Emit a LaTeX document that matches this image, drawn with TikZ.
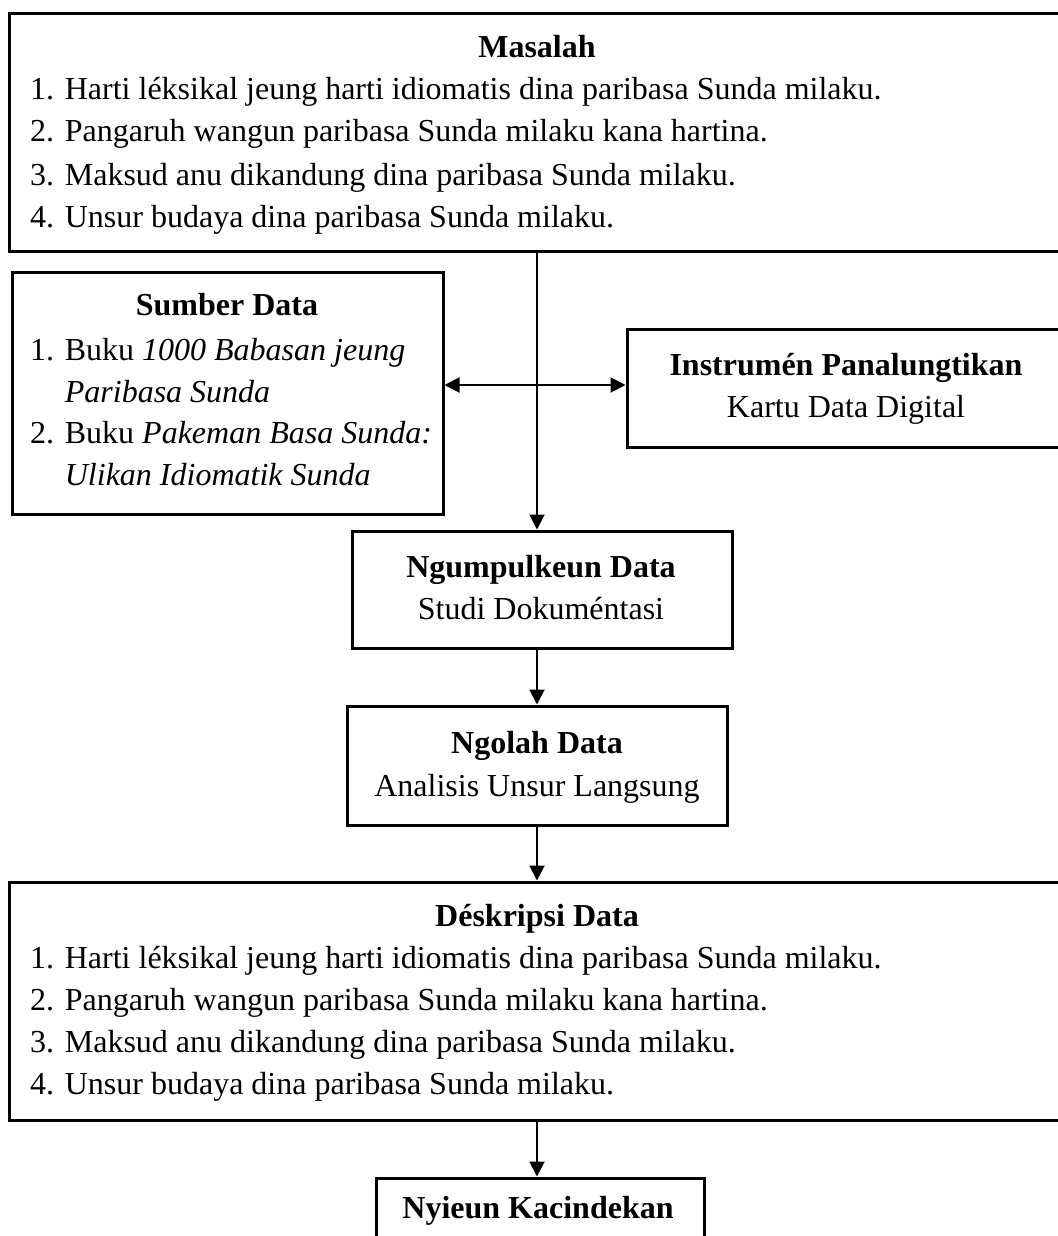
\documentclass[tikz,border=0pt]{standalone}
\usepackage{fontspec}
\setmainfont{Liberation Serif}
\usetikzlibrary{arrows.meta}
\tikzset{
  box/.style={draw, line width=3pt, inner sep=0pt},
  txt/.style={font=\fontsize{32}{36}\selectfont, inner sep=0pt, anchor=base west},
  ttl/.style={font=\fontsize{32}{36}\selectfont\bfseries, inner sep=0pt, anchor=base},
  sub/.style={font=\fontsize{32}{36}\selectfont, inner sep=0pt, anchor=base},
  arr/.style={line width=2pt, -{Triangle[length=15pt,width=15pt]}}
}
\begin{document}
\begin{tikzpicture}[x=1pt,y=-1pt]
\useasboundingbox (0,0) rectangle (1057,1236);
% boxes
\node[box, minimum width=1056pt, minimum height=237pt] (masalah) at (537,132.5) {};
\node[box, minimum width=431pt, minimum height=242pt] (sumber) at (227.5,393) {};
\node[box, minimum width=438pt, minimum height=118pt] (instr) at (846,388) {};
\node[box, minimum width=380pt, minimum height=117pt] (ngumpul) at (542,589.5) {};
\node[box, minimum width=380pt, minimum height=119pt] (ngolah) at (537,765.5) {};
\node[box, minimum width=1056pt, minimum height=238pt] (deskripsi) at (537,1001) {};
\node[box, minimum width=328pt, minimum height=117pt] (nyieun) at (540,1236.5) {};
% Masalah text
\node[ttl] (masalahT) at (537,58) {Masalah};
\node[txt] (m1) at (30,100) {1. Harti léksikal jeung harti idiomatis dina paribasa Sunda milaku.};
\node[txt] (m2) at (30,142) {2. Pangaruh wangun paribasa Sunda milaku kana hartina.};
\node[txt] (m3) at (30,185) {3. Maksud anu dikandung dina paribasa Sunda milaku.};
\node[txt] (m4) at (30,227) {4. Unsur budaya dina paribasa Sunda milaku.};
% Sumber Data text
\node[ttl] (sumberT) at (227,315) {Sumber Data};
\node[txt] (s1) at (30,360) {1. Buku \textit{1000 Babasan jeung}};
\node[txt] (s2) at (30,402) {\phantom{1. }\textit{Paribasa Sunda}};
\node[txt] (s3) at (30,443) {2. Buku \textit{Pakeman Basa Sunda:}};
\node[txt] (s4) at (30,485) {\phantom{1. }\textit{Ulikan Idiomatik Sunda}};
% Instrumen
\node[ttl] (instrT) at (846,375) {Instrumén Panalungtikan};
\node[sub] (instrS) at (846,417) {Kartu Data Digital};
% Ngumpulkeun
\node[ttl] (ngumpulT) at (541,577) {Ngumpulkeun Data};
\node[sub] (ngumpulS) at (541,619) {Studi Dokuméntasi};
% Ngolah
\node[ttl] (ngolahT) at (537,753) {Ngolah Data};
\node[sub] (ngolahS) at (537,796) {Analisis Unsur Langsung};
% Deskripsi
\node[ttl] (deskT) at (537,926) {Déskripsi Data};
\node[txt] (d1) at (30,968) {1. Harti léksikal jeung harti idiomatis dina paribasa Sunda milaku.};
\node[txt] (d2) at (30,1010) {2. Pangaruh wangun paribasa Sunda milaku kana hartina.};
\node[txt] (d3) at (30,1052) {3. Maksud anu dikandung dina paribasa Sunda milaku.};
\node[txt] (d4) at (30,1094) {4. Unsur budaya dina paribasa Sunda milaku.};
% Nyieun
\node[ttl] (nyieunT) at (538,1218) {Nyieun Kacindekan};
% connectors
\coordinate (j) at (537,385);
\draw[arr] (masalah.south) -- (masalah.south |- ngumpul.north);
\draw[arr] (j) -- (j -| sumber.east);
\draw[arr] (j) -- (j -| instr.west);
\draw[arr] (ngumpul.south -| ngolah.north) -- (ngolah.north);
\draw[arr] (ngolah.south) -- (ngolah.south |- deskripsi.north);
\draw[arr] (deskripsi.south) -- (deskripsi.south |- nyieun.north);
\end{tikzpicture}
\end{document}
